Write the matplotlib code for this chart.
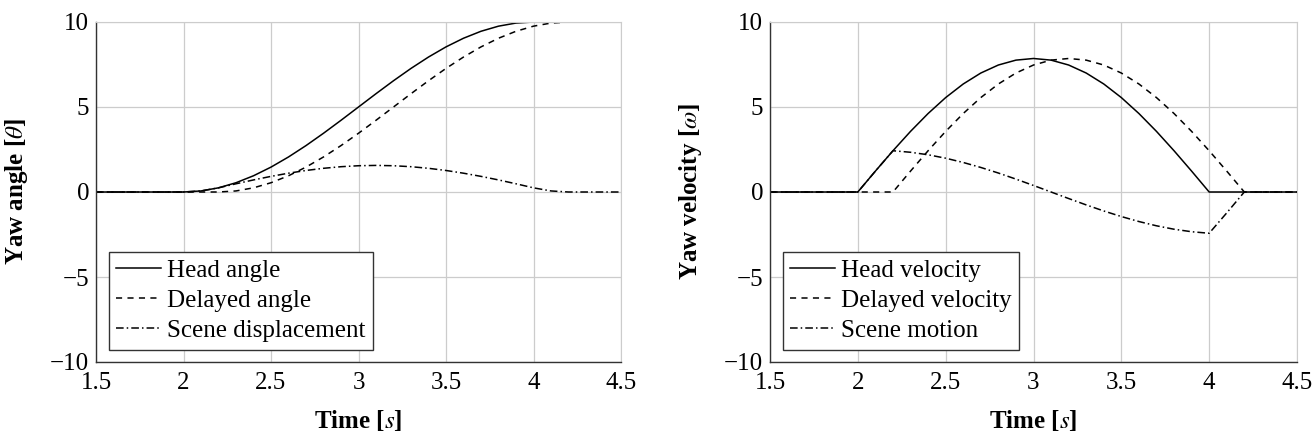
import numpy as np
import matplotlib.pyplot as plt

plt.rcParams['font.family'] = ['Liberation Serif', 'DejaVu Serif']
plt.rcParams['mathtext.fontset'] = 'stix'

# time samples (s)
time = [1.5, 1.6, 1.7, 1.8, 1.9, 2.0, 2.1, 2.2, 2.3, 2.4, 2.5, 2.6, 2.7, 2.8, 2.9, 3.0,
        3.1, 3.2, 3.3, 3.4, 3.5, 3.6, 3.7, 3.8, 3.9, 4.0, 4.1, 4.2, 4.3, 4.4, 4.5]

# yaw angle
head_angle = [0, 0, 0, 0, 0, 0, 0.062, 0.245, 0.545, 0.955, 1.464, 2.061, 2.730, 3.455, 4.218, 5.0,
              5.782, 6.545, 7.270, 7.939, 8.536, 9.045, 9.455, 9.755, 9.938, 10, 10, 10, 10, 10, 10]
delayed_angle = [0, 0, 0, 0, 0, 0, 0, 0, 0.062, 0.245, 0.545, 0.955, 1.464, 2.061, 2.730, 3.455,
                 4.218, 5.0, 5.782, 6.545, 7.270, 7.939, 8.536, 9.045, 9.455, 9.755, 9.938, 10, 10, 10, 10]
scene_disp = [0, 0, 0, 0, 0, 0, 0.062, 0.245, 0.483, 0.710, 0.919, 1.106, 1.266, 1.394, 1.488, 1.545,
              1.564, 1.545, 1.488, 1.394, 1.266, 1.106, 0.919, 0.710, 0.483, 0.245, 0.062, 0, 0, 0, 0]

# yaw velocity
head_vel = [0, 0, 0, 0, 0, 0, 1.229, 2.427, 3.566, 4.617, 5.554, 6.354, 6.998, 7.470, 7.757, 7.854,
            7.757, 7.470, 6.998, 6.354, 5.554, 4.617, 3.566, 2.427, 1.229, 0, 0, 0, 0, 0, 0]
delayed_vel = [0, 0, 0, 0, 0, 0, 0, 0, 1.229, 2.427, 3.566, 4.617, 5.554, 6.354, 6.998, 7.470,
               7.757, 7.854, 7.757, 7.470, 6.998, 6.354, 5.554, 4.617, 3.566, 2.427, 1.229, 0, 0, 0, 0]
scene_motion = [0, 0, 0, 0, 0, 0, 1.229, 2.427, 2.337, 2.190, 1.988, 1.737, 1.444, 1.116, 0.759, 0.384,
                0, -0.384, -0.759, -1.116, -1.444, -1.737, -1.988, -2.190, -2.337, -2.427, -1.229, 0, 0, 0, 0]

xticks = [1.5, 2, 2.5, 3, 3.5, 4, 4.5]
xticklabels = ['1.5', '2', '2.5', '3', '3.5', '4', '4.5']
yticks = [-10, -5, 0, 5, 10]
yticklabels = ['\u221210', '\u22125', '0', '5', '10']

fig = plt.figure(figsize=(13.16, 4.34), dpi=100)
ax1 = fig.add_axes([96 / 1316, 72 / 434, 525 / 1316, 340 / 434])
ax2 = fig.add_axes([770 / 1316, 72 / 434, 527 / 1316, 340 / 434])

panels = [
    (ax1, head_angle, delayed_angle, scene_disp,
     ['Head angle', 'Delayed angle', 'Scene displacement'], r'Yaw angle [$\theta$]'),
    (ax2, head_vel, delayed_vel, scene_motion,
     ['Head velocity', 'Delayed velocity', 'Scene motion'], r'Yaw velocity [$\omega$]'),
]

for ax, a, b, c, names, ylab in panels:
    ax.plot(time, a, color='black', lw=1.1, ls='-', label=names[0])
    ax.plot(time, b, color='black', lw=1.1, ls=(0, (4, 3.5)), label=names[1])
    ax.plot(time, c, color='black', lw=1.1, ls=(0, (5, 2, 1, 2)), label=names[2])
    ax.set_xlim(1.5, 4.5)
    ax.set_ylim(-10, 10)
    ax.set_xticks(xticks)
    ax.set_xticklabels(xticklabels)
    ax.set_yticks(yticks)
    ax.set_yticklabels(yticklabels)
    ax.tick_params(length=0, labelsize=18)
    ax.tick_params(axis='x', pad=7)
    ax.tick_params(axis='y', pad=5)
    ax.grid(True, color='#cccccc', lw=0.9)
    ax.set_axisbelow(True)
    for s in ['top', 'right']:
        ax.spines[s].set_color('#cccccc')
    for s in ['left', 'bottom']:
        ax.spines[s].set_color('#333333')
        ax.spines[s].set_linewidth(1.0)
    ax.set_xlabel(r'Time [$s$]', fontsize=18, fontweight='bold', labelpad=10)
    ax.set_ylabel(ylab, fontsize=18, fontweight='bold', labelpad=14)
    leg = ax.legend(loc='lower left', fontsize=18, frameon=True, fancybox=False,
                    edgecolor='#333333', framealpha=1, handlelength=1.8,
                    handletextpad=0.25, borderpad=0.3, labelspacing=0.3,
                    borderaxespad=0.5)
    leg.get_frame().set_linewidth(1.0)

fig.savefig('out.png', dpi=100)
